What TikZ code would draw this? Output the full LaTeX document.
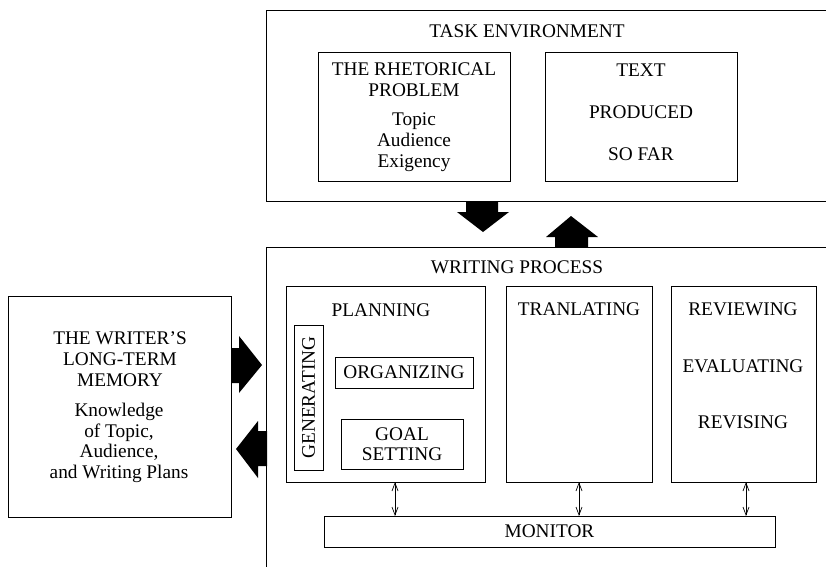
\documentclass[tikz,border=0pt]{standalone}
\usepackage{fontspec}
\setmainfont{Liberation Serif}
\usetikzlibrary{positioning}
\usetikzlibrary{arrows.meta}

\tikzset{
  box/.style={draw=black, line width=1pt, anchor=north west, inner sep=0pt, outer sep=0pt},
  lbl/.style={inner sep=0pt, font=\fontsize{19.3}{21}\selectfont, align=center},
  twoway/.style={{Straight Barb[length=8pt,width=6pt]}-{Straight Barb[length=8pt,width=6pt]}, line width=0.7pt},
  bigarrow/.style={fill=black}
}

\begin{document}
\begin{tikzpicture}[x=1pt, y=-1pt]
\clip (0,0) rectangle (826,566);
% task environment
\node[box, minimum width=634pt, minimum height=191pt] (task) at (266,10) {};
\node[box, minimum width=192pt, minimum height=129pt] (rhet) at (318,52) {};
\node[box, minimum width=192pt, minimum height=129pt] (text) at (545,52) {};
\node[lbl, anchor=base] (tasklbl) at (527,37) {TASK ENVIRONMENT};
\node[lbl, anchor=north] (rhetlbl) at (414,63) {THE RHETORICAL\\PROBLEM};
\node[lbl, anchor=north] (rhetlist) at (414,113) {Topic\\Audience\\Exigency};
\node[lbl, anchor=base] (textA) at (641,76) {TEXT};
\node[lbl, anchor=base] (textB) at (641,118) {PRODUCED};
\node[lbl, anchor=base] (textC) at (641,160) {SO FAR};
% writing process
\node[box, minimum width=634pt, minimum height=400pt] (process) at (266,247) {};
\node[lbl, anchor=base] (processlbl) at (517,273) {WRITING PROCESS};
\node[box, minimum width=199pt, minimum height=196pt] (plan) at (286,286) {};
\node[box, minimum width=29pt, minimum height=145pt] (gen) at (294,325) {};
\node[box, minimum width=138pt, minimum height=31pt] (org) at (335,357) {};
\node[box, minimum width=122pt, minimum height=50pt] (goal) at (341,419) {};
\node[box, minimum width=146pt, minimum height=196pt] (trans) at (506,286) {};
\node[box, minimum width=145pt, minimum height=196pt] (review) at (671,286) {};
\node[box, minimum width=451pt, minimum height=31pt] (monitor) at (324,516) {};
\node[lbl, anchor=base] (planlbl) at (381,316) {PLANNING};
\node[lbl, rotate=90] (genlbl) at (gen.center) {GENERATING};
\node[lbl] (orglbl) at (org.center) {ORGANIZING};
\node[lbl, font=\fontsize{19.3}{20}\selectfont] (goallbl) at (goal.center) {GOAL\\SETTING};
\node[lbl, anchor=base] (translbl) at (579,315) {TRANLATING};
\node[lbl, anchor=base] (reviewA) at (743,315) {REVIEWING};
\node[lbl, anchor=base] (reviewB) at (743,372) {EVALUATING};
\node[lbl, anchor=base] (reviewC) at (743,428) {REVISING};
\node[lbl] (monitorlbl) at (monitor.center) {MONITOR};
% long-term memory
\node[box, minimum width=223pt, minimum height=221pt] (memory) at (8,296) {};
\node[lbl, anchor=north] (memlbl) at (120,331) {THE WRITER’S\\LONG-TERM\\MEMORY};
\node[lbl, anchor=north, font=\fontsize{19.3}{20.5}\selectfont] (memlist) at (119,403) {Knowledge\\of Topic,\\Audience,\\and Writing Plans};
% monitor links
\coordinate (planlink) at (395,482);
\coordinate (reviewlink) at (746,482);
\draw[twoway] (planlink) -- (monitor.north -| planlink);
\draw[twoway] (trans.south) -- (monitor.north -| trans.south);
\draw[twoway] (reviewlink) -- (monitor.north -| reviewlink);
% big arrows
\fill[bigarrow] (466,201) -- (498,201) -- (498,212) -- (509,212) -- (483,232) -- (457,212) -- (466,212) -- cycle;
\fill[bigarrow] (555,247) -- (588,247) -- (588,237) -- (598,237) -- (571,216) -- (546,237) -- (555,237) -- cycle;
\fill[bigarrow] (231,348) -- (239,348) -- (239,336) -- (262,365) -- (239,393) -- (239,383) -- (231,383) -- cycle;
\fill[bigarrow] (267,431) -- (258,431) -- (258,421) -- (236,449) -- (258,478) -- (258,466) -- (267,466) -- cycle;
\end{tikzpicture}
\end{document}
